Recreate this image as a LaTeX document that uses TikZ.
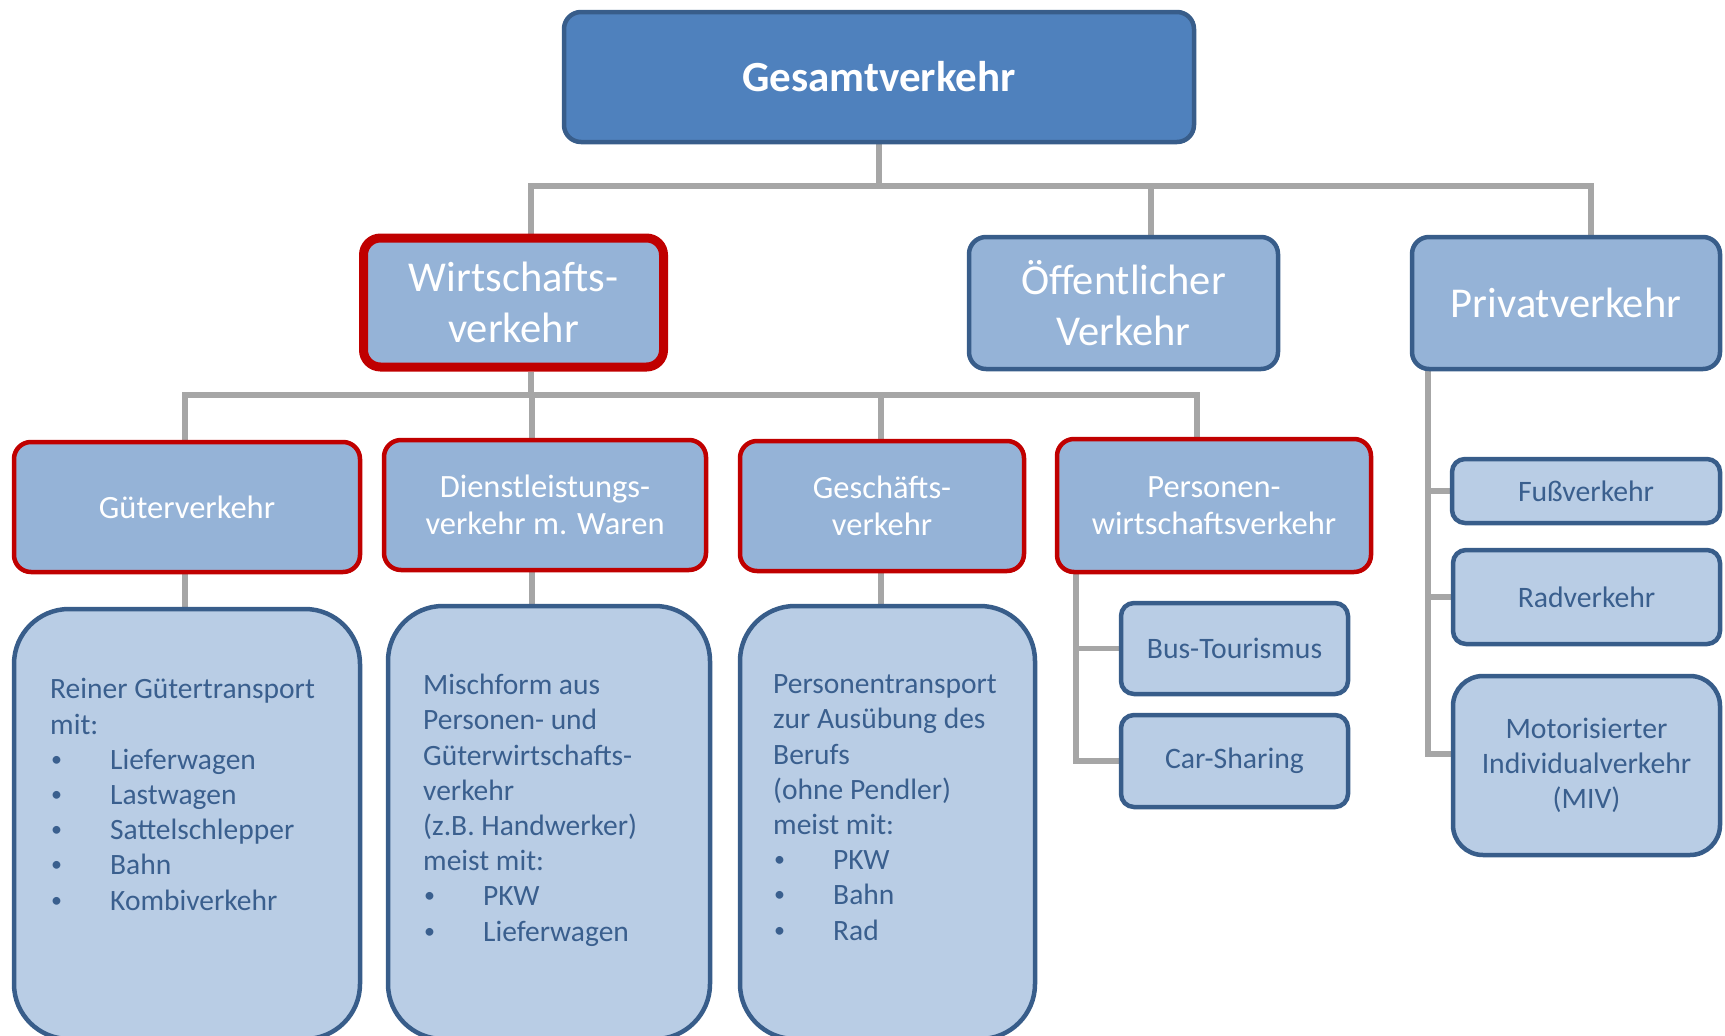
\documentclass[tikz,border=0pt]{standalone}
\usepackage{fontspec}
\setmainfont{Carlito}
\usetikzlibrary{backgrounds,calc}
\definecolor{dblue}{HTML}{385D8A}
\definecolor{mblue}{HTML}{4F81BD}
\definecolor{lblue}{HTML}{95B3D7}
\definecolor{pblue}{HTML}{B9CDE5}
\definecolor{dred}{HTML}{C00000}
\definecolor{lgray}{HTML}{A6A6A6}
\definecolor{txtblue}{HTML}{3A5F8E}
\newcommand{\bul}{\makebox[60pt][l]{\hspace*{1pt}\raisebox{3pt}{\fontsize{22}{22}\selectfont•}}}
\tikzset{
  basebox/.style={draw=dblue, line width=4.5pt, rounded corners=17pt, fill=lblue, text=white, align=center, inner sep=0pt},
  topbox/.style={basebox, fill=mblue, font=\fontsize{43}{50}\selectfont\bfseries},
  lvlone/.style={basebox, font=\fontsize{42.5}{51}\selectfont},
  lvlonered/.style={lvlone, draw=dred, line width=9pt},
  lvltwo/.style={basebox, draw=dred, font=\fontsize{32.5}{37.5}\selectfont},
  detbox/.style={basebox, fill=pblue, rounded corners=55pt},
  smallbox/.style={basebox, fill=pblue, rounded corners=13pt, text=txtblue, font=\fontsize{29.7}{35}\selectfont},
  dettext/.style={text=txtblue, align=left, inner sep=0pt, font=\fontsize{29.5}{35.2}\selectfont, anchor=base west},
  conn/.style={draw=lgray, line width=5.5pt}
}
\begin{document}
\begin{tikzpicture}[x=1pt,y=-1pt]
\useasboundingbox (0,0) rectangle (1725,1036);
\clip (0,0) rectangle (1725,1036);
% top
\node[topbox, minimum width=630pt, minimum height=130pt] (ges) at (879,77) {Gesamtverkehr};
% level 1
\node[lvlonered, minimum width=300pt, minimum height=129pt] (wir) at (513.5,302.5) {Wirtschafts-\\verkehr};
\node[lvlone, minimum width=309pt, minimum height=132pt] (oeff) at (1123.5,303) {Öffentlicher\\Verkehr};
\node[lvlone, minimum width=308pt, minimum height=132pt] (priv) at (1566,303) {Privatverkehr};
% level 2
\node[lvltwo, minimum width=346pt, minimum height=130pt] (gut) at (187,507) {Güterverkehr};
\node[lvltwo, minimum width=322pt, minimum height=130pt] (dien) at (545,505) {Dienstleistungs-\\verkehr m. Waren};
\node[lvltwo, minimum width=284pt, minimum height=130pt] (gesch) at (882,506) {Geschäfts-\\verkehr};
\node[lvltwo, minimum width=314pt, minimum height=133pt] (pers) at (1214,505.5) {Personen-\\wirtschaftsverkehr};
% detail boxes
\node[detbox, minimum width=346pt, minimum height=430pt] (det1) at (187,824) {};
\node[detbox, minimum width=322pt, minimum height=433pt] (det2) at (549,822.5) {};
\node[detbox, minimum width=295pt, minimum height=433pt] (det3) at (887.5,822.5) {};
\node[dettext] (t1) at (50,910) {Reiner Gütertransport\\mit:\\\bul Lieferwagen\\\bul Lastwagen\\\bul Sattelschlepper\\\bul Bahn\\\bul Kombiverkehr};
\node[dettext] (t2) at (423,941) {Mischform aus\\Personen- und\\Güterwirtschafts-\\verkehr\\(z.B. Handwerker)\\meist mit:\\\bul PKW\\\bul Lieferwagen};
\node[dettext] (t3) at (773,940) {Personentransport\\zur Ausübung des\\Berufs\\(ohne Pendler)\\meist mit:\\\bul PKW\\\bul Bahn\\\bul Rad};
% small boxes
\node[smallbox, minimum width=227pt, minimum height=91pt] (bus) at (1234.5,648.5) {Bus-Tourismus};
\node[smallbox, minimum width=227pt, minimum height=92pt] (car) at (1234.5,761) {Car-Sharing};
\node[smallbox, minimum width=268pt, minimum height=64pt] (fuss) at (1586,491) {Fußverkehr};
\node[smallbox, minimum width=267pt, minimum height=94pt] (rad) at (1586.5,597) {Radverkehr};
\node[smallbox, minimum width=267pt, minimum height=179pt, rounded corners=30pt] (miv) at (1586.5,765.5) {Motorisierter\\Individualverkehr\\(MIV)};
% connectors
\begin{scope}[on background layer]
\coordinate (cW) at (531,0);
\coordinate (cO) at (1151,0);
\coordinate (cP) at (1591,0);
\coordinate (r1) at (0,186);
\coordinate (r2) at (0,395);
\coordinate (cG) at (185,0);
\coordinate (cD) at (532,0);
\coordinate (cS) at (881,0);
\coordinate (cPW) at (1197,0);
\coordinate (cB) at (1076,0);
\coordinate (cM) at (1428,0);
\coordinate (rM) at (0,754);
\draw[conn] (ges.south) -- (ges.south |- r1);
\draw[conn] (cW |- wir.north) -- (cW |- r1) -- (cP |- r1) -- (cP |- priv.north);
\draw[conn] (cO |- r1) -- (cO |- oeff.north);
\draw[conn] (cW |- wir.south) -- (cW |- r2);
\draw[conn] (cG |- gut.north) -- (cG |- r2) -- (cPW |- r2) -- (cPW |- pers.north);
\draw[conn] (cD |- r2) -- (cD |- dien.north);
\draw[conn] (cS |- r2) -- (cS |- gesch.north);
\draw[conn] (cG |- gut.south) -- (cG |- det1.north);
\draw[conn] (cD |- dien.south) -- (cD |- det2.north);
\draw[conn] (cS |- gesch.south) -- (cS |- det3.north);
\draw[conn] (cB |- pers.south) -- (cB |- car.west) -- (car.west);
\draw[conn] (cB |- bus.west) -- (bus.west);
\draw[conn] (cM |- priv.south) -- (cM |- rM) -- (miv.west |- rM);
\draw[conn] (cM |- fuss.west) -- (fuss.west);
\draw[conn] (cM |- rad.west) -- (rad.west);
\end{scope}
\end{tikzpicture}
\end{document}
